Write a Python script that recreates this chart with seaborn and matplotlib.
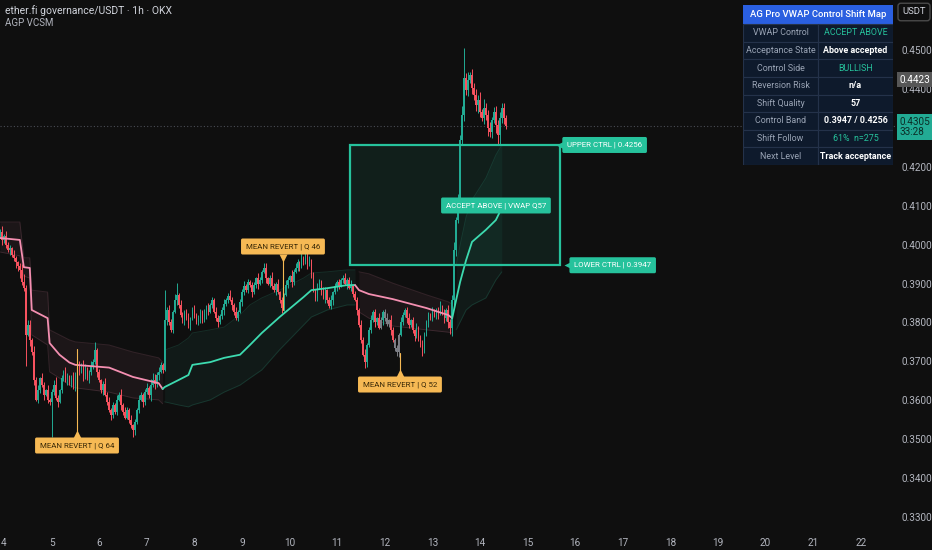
import numpy as np
import pandas as pd
import seaborn as sns
import matplotlib.pyplot as plt
from matplotlib.patches import Rectangle

# hourly candles, prices in 1e-4 USDT, first candle at day 3 22:00
closes = [
    4032, 4012, 4022, 3999, 3986, 3991, 3973, 3966, 3955, 3945, 3935, 3904, 3889, 3768, 3793, 3755,
    3724, 3651, 3601, 3626, 3657, 3639, 3614, 3626, 3601, 3596, 3621, 3639, 3606, 3596, 3626, 3657,
    3673, 3651, 3662, 3642, 3657, 3637, 3665, 3698, 3673, 3683, 3662, 3678, 3657, 3673, 3688, 3698,
    3730, 3673, 3651, 3626, 3642, 3614, 3596, 3575, 3562, 3588, 3570, 3601, 3614, 3588, 3570, 3555,
    3575, 3549, 3536, 3524, 3544, 3575, 3601, 3614, 3596, 3621, 3632, 3614, 3639, 3651, 3642, 3665,
    3673, 3691, 3678, 3806, 3832, 3801, 3780, 3827, 3858, 3871, 3845, 3819, 3806, 3827, 3811, 3793,
    3811, 3832, 3819, 3801, 3811, 3827, 3806, 3822, 3837, 3827, 3845, 3858, 3827, 3811, 3801, 3817,
    3832, 3847, 3858, 3868, 3858, 3845, 3827, 3811, 3827, 3853, 3878, 3894, 3883, 3904, 3896, 3878,
    3896, 3914, 3899, 3909, 3930, 3940, 3914, 3899, 3914, 3894, 3883, 3899, 3878, 3858, 3837, 3871,
    3896, 3909, 3919, 3904, 3930, 3940, 3955, 3945, 3966, 3955, 3971, 3950, 3960, 3922, 3883, 3863,
    3889, 3904, 3878, 3863, 3883, 3858, 3842, 3858, 3878, 3894, 3904, 3894, 3909, 3914, 3899, 3909,
    3889, 3896, 3873, 3858, 3832, 3793, 3755, 3717, 3698, 3742, 3780, 3806, 3827, 3801, 3811, 3786,
    3806, 3827, 3811, 3796, 3806, 3780, 3755, 3734, 3724, 3768, 3801, 3819, 3832, 3811, 3793, 3806,
    3780, 3765, 3786, 3760, 3742, 3730, 3768, 3801, 3819, 3811, 3827, 3817, 3832, 3822, 3842, 3827,
    3811, 3832, 3801, 3786, 3858, 3986, 4063, 4115, 4269, 4333, 4428, 4397, 4423, 4436, 4402, 4384,
    4359, 4372, 4341, 4325, 4351, 4333, 4300, 4289, 4320, 4341, 4307, 4282, 4325, 4351, 4325, 4305,
]
first_open = 4020

# wick lengths per candle (digit x 4e-4)
wick_up_rows = [
    "24132213112452331423132131235212", "13212423135421323121242312132413",
    "21312132123145423213232142132123", "12312213231213212312421312231212",
    "21321231242131213214232131223121", "32132123121212312312213241231213",
    "21231321213212312131232121321231", "21323524364352434352633423434332",
]
wick_dn_rows = [
    "13221312435223142312213122321312", "21312231213213221312312132121321",
    "12213121321241323121321213212312", "31212321321212312312132121321213",
    "12312131221312321213212312131212", "21213212313212131221312123121321",
    "13212312131213212312132131212312", "32435342534342434532435342536342",
]
high_fix = {39: 3722, 48: 3750, 83: 3883, 89: 3901, 133: 3953, 154: 3981, 234: 4505}
low_fix = {13: 3688, 26: 3506, 67: 3506, 142: 3824, 184: 3683, 200: 3714, 213: 3714, 227: 3770, 251: 4256}
gray_idx = [192, 194, 195, 196, 199, 200, 201]

# anchored VWAP and its band, knots by candle index
vwap_idx = [0, 10, 12, 15, 16, 24, 25, 30, 35, 38, 55, 67, 80, 82,
            83, 90, 95, 97, 106, 113, 121, 126, 132, 141, 153, 157, 165, 175, 179,
            181, 186, 198, 215, 226, 228,
            230, 232, 235, 238, 245, 250, 253]
vwap_val = [4017, 4012, 3942, 3940, 3832, 3811, 3747, 3717, 3697, 3691, 3684, 3660, 3644, 3629,
            3634, 3652, 3665, 3691, 3698, 3709, 3717, 3742, 3773, 3814, 3865, 3883, 3888, 3896, 3896,
            3883, 3873, 3860, 3837, 3819, 3811,
            3858, 3904, 3960, 4007, 4038, 4063, 4094]
band_hi = [4058, 4058, 3966, 3966, 3883, 3878, 3781, 3768, 3755, 3750, 3742, 3724, 3709, 3698,
           3729, 3742, 3760, 3773, 3781, 3788, 3819, 3845, 3863, 3883, 3914, 3927, 3930, 3935, 3935,
           3930, 3925, 3901, 3871, 3853, 3847,
           3948, 3999, 4071, 4115, 4171, 4230, 4256]
band_lo = [3981, 3971, 3919, 3914, 3768, 3742, 3673, 3657, 3639, 3632, 3621, 3606, 3601, 3591,
           3596, 3588, 3583, 3588, 3601, 3621, 3639, 3657, 3678, 3730, 3793, 3814, 3832, 3845, 3845,
           3827, 3811, 3791, 3781, 3775, 3773,
           3781, 3801, 3832, 3845, 3863, 3909, 3930]
vwap_side = ["bear"] * 14 + ["bull"] * 15 + ["bear"] * 6 + ["bull"] * 7

ctrl_low, ctrl_high = 0.3947, 0.4256
last_price, last_high = 0.4305, 0.4423
price_ticks = [0.33, 0.34, 0.35, 0.36, 0.37, 0.38, 0.39, 0.40, 0.41, 0.42, 0.43, 0.44, 0.45]
day_ticks = list(range(4, 23))

table_rows = [
    ("VWAP Control", "ACCEPT ABOVE", "teal"),
    ("Acceptance State", "Above accepted", "white"),
    ("Control Side", "BULLISH", "teal"),
    ("Reversion Risk", "n/a", "white"),
    ("Shift Quality", "57", "white"),
    ("Control Band", "0.3947 / 0.4256", "white"),
    ("Shift Follow", "61%  n=275", "teal"),
    ("Next Level", "Track acceptance", "white"),
]

BG = "#0f0f0f"
BULL = "#22ab94"
BEAR = "#f7525f"
PINK = "#f48fb1"
CYAN = "#3ddbb0"
TEAL = "#26c29c"
ORANGE = "#f6b954"
TXT = "#b2b5be"
T0 = 3 + 22 / 24
WICK = 0.0004

sns.set_theme(style="dark", rc={"axes.facecolor": BG, "figure.facecolor": BG})
plt.rcParams["font.family"] = ["Roboto", "DejaVu Sans"]

# candles
n = len(closes)
c = np.array(closes) / 1e4
o = np.r_[first_open / 1e4, c[:-1]]
up = np.array([int(d) for d in "".join(wick_up_rows)]) * WICK
dn = np.array([int(d) for d in "".join(wick_dn_rows)]) * WICK
h = np.maximum(o, c) + up
l = np.minimum(o, c) - dn
for k, v in high_fix.items():
    h[k] = max(h[k], v / 1e4)
for k, v in low_fix.items():
    l[k] = min(l[k], v / 1e4)
t = T0 + np.arange(n) / 24
colors = np.where(c >= o, BULL, BEAR).astype(object)
colors[gray_idx] = "#7d7f86"

fig = plt.figure(figsize=(9.32, 5.5), dpi=100)
ax = fig.add_axes([0, 20 / 550, 895 / 932, 530 / 550])
ax.set_facecolor(BG)

# band + vwap, split where the control side flips
vw = pd.DataFrame(dict(t=T0 + np.array(vwap_idx) / 24, vwap=np.array(vwap_val) / 1e4,
                       hi=np.array(band_hi) / 1e4, lo=np.array(band_lo) / 1e4, side=vwap_side))
vw["run"] = (vw.side != vw.side.shift()).cumsum()
prev = None
for run, g in vw.groupby("run"):
    col = PINK if g.side.iloc[0] == "bear" else CYAN
    ax.fill_between(g.t, g.lo, g.hi, color=col, alpha=0.06, lw=0, zorder=1)
    ax.plot(g.t, g.hi, color=col, alpha=0.15, lw=0.7, zorder=1)
    ax.plot(g.t, g.lo, color=col, alpha=0.15, lw=0.7, zorder=1)
    seg = g if prev is None else pd.concat([prev.tail(1), g])
    sns.lineplot(data=seg, x="t", y="vwap", ax=ax, color=col, lw=1.3,
                 estimator=None, sort=False, zorder=4)
    prev = g

ax.vlines(t, l, h, colors=colors, lw=0.7, zorder=2)
ax.bar(t, np.maximum(np.abs(c - o), 0.00012), bottom=np.minimum(o, c),
       width=0.032, color=colors, lw=0, zorder=3)

# control box
ax.add_patch(Rectangle((11.269, ctrl_low), 15.681 - 11.269, ctrl_high - ctrl_low,
                       fc=TEAL, alpha=0.09, lw=0, zorder=2))
ax.add_patch(Rectangle((11.269, ctrl_low), 15.681 - 11.269, ctrl_high - ctrl_low,
                       fc="none", ec=TEAL, lw=1.6, zorder=5))

ax.axhline(last_price, color="#4a4d55", lw=0.8, ls=(0, (1, 2)), zorder=1)

# labels
LBL = dict(fontsize=5.7, zorder=7, va="center")

def teal_label(x, y, s, ha="left", tip=None):
    ax.text(x, y, s, ha=ha, color="white", **LBL,
            bbox=dict(boxstyle="round,pad=0.6,rounding_size=0.2", fc=TEAL, ec="none"))
    if tip is not None:
        ax.plot(tip, y, marker="<", ms=6, color=TEAL, mec="none", zorder=7)

teal_label(15.83, ctrl_high, "UPPER CTRL | 0.4256", tip=15.69)
teal_label(15.98, ctrl_low, "LOWER CTRL | 0.3947", tip=15.84)
teal_label(14.336, 0.41005, "ACCEPT ABOVE | VWAP Q57", ha="center")

def revert_label(x, y, s, y_tip, y_line, up_tip):
    ax.plot([x, x], [y_tip, y_line], color=ORANGE, lw=0.8, zorder=6)
    ax.text(x, y, s, ha="center", color="#3b2a08", **LBL,
            bbox=dict(boxstyle="round,pad=0.6,rounding_size=0.2", fc=ORANGE, ec="none"))
    ax.plot(x, y_tip, marker="^" if up_tip else "v", ms=6, color=ORANGE, mec="none", zorder=7)

revert_label(5.534, 0.34838, "MEAN REVERT | Q 64", 0.3513, 0.3733, True)
revert_label(9.861, 0.39951, "MEAN REVERT | Q 46", 0.3966, 0.3832, False)
revert_label(12.319, 0.36405, "MEAN REVERT | Q 52", 0.3670, 0.3722, True)

# axes
ax.set_xlim(3.916, 22.72)
ax.set_ylim(0.32667, 0.46285)
ax.yaxis.tick_right()
ax.set_yticks(price_ticks)
# the live price tag covers its own tick
ax.set_yticklabels(["" if abs(v - last_price) < 0.003 else f"{v:.4f}" for v in price_ticks])
ax.set_xticks(day_ticks)
ax.set_xticklabels([str(d) for d in day_ticks])
ax.tick_params(axis="y", length=0, pad=5, labelsize=7.2, labelcolor=TXT)
ax.tick_params(axis="x", length=0, pad=6, labelsize=7.2, labelcolor=TXT)
ax.set_xlabel("")
ax.set_ylabel("")
ax.grid(False)
for sp in ax.spines.values():
    sp.set_visible(False)

yt = ax.get_yaxis_transform()
ax.text(1.0045, last_high, f"{last_high:.4f}", transform=yt, ha="left", va="center",
        fontsize=7.2, color="white", clip_on=False, zorder=8,
        bbox=dict(boxstyle="square,pad=0.25", fc="#565656", ec="none"))
ax.text(1.0045, last_price - 0.0003, f"{last_price:.4f}\n33:28", transform=yt, ha="left",
        va="center", fontsize=7.2, color="#0b2e27", clip_on=False, zorder=8, linespacing=1.1,
        bbox=dict(boxstyle="square,pad=0.25", fc=BULL, ec="none"))

fig.text(5 / 932, 1 - 11 / 550, "ether.fi governance/USDT · 1h · OKX", fontsize=7.5,
         color="#d1d4dc", va="center")
fig.text(5 / 932, 1 - 23 / 550, "AGP VCSM", fontsize=7, color=TXT, va="center")
fig.text(914 / 932, 1 - 12 / 550, "USDT", fontsize=6.8, color="#d1d4dc", ha="center",
         va="center", bbox=dict(boxstyle="round,pad=0.45,rounding_size=0.3", fc=BG, ec="#4a4a4a"))

# status table
tax = fig.add_axes([743 / 932, 1 - 165 / 550, 150 / 932, 160 / 550])
tax.set_xlim(0, 150)
tax.set_ylim(160, 0)
tax.axis("off")
tax.add_patch(Rectangle((0, 0), 150, 19, fc="#2a5fe0", ec="none"))
tax.text(75, 9.5, "AG Pro VWAP Control Shift Map", ha="center", va="center",
         fontsize=6.8, color="white", fontweight="medium")
rh = (160 - 19) / len(table_rows)
for k, (name, val, tone) in enumerate(table_rows):
    y0 = 19 + k * rh
    tax.add_patch(Rectangle((0, y0), 75, rh, fc="#0e1a2c", ec="#24324a", lw=0.8))
    tax.add_patch(Rectangle((75, y0), 75, rh, fc="#0e1a2c", ec="#24324a", lw=0.8))
    tax.text(37.5, y0 + rh / 2, name, ha="center", va="center", fontsize=6.4, color="#9aa4b5")
    tax.text(112.5, y0 + rh / 2, val, ha="center", va="center", fontsize=6.4,
             color=TEAL if tone == "teal" else "white",
             fontweight="normal" if tone == "teal" else "bold")

fig.savefig("out.png", dpi=100, facecolor=BG)
